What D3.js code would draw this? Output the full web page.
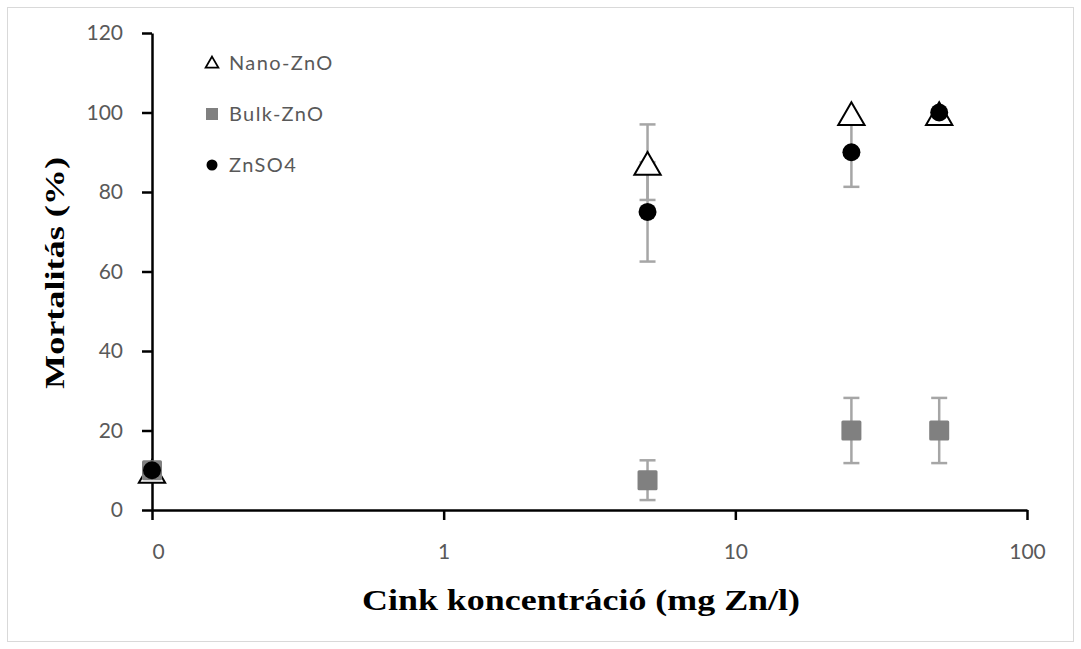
<!DOCTYPE html>
<html>
<head>
<meta charset="utf-8">
<style>
  body { margin: 0; background: #fff; }
  .tick-label { font-family: Lato, "Open Sans", sans-serif; font-size: 21px; fill: #595959; }
  .legend-label { font-family: Lato, "Open Sans", sans-serif; font-size: 20px; fill: #595959; letter-spacing: 1.4px; }
  .axis-title { font-family: "Liberation Serif", serif; font-weight: bold; fill: #000; }
</style>
</head>
<body>
<script src="https://cdn.jsdelivr.net/npm/d3@7"></script>
<script>
const width = 1081;
const height = 649;

// data (x = 0.1 stands for the "0" control on the log axis)
const concentrations = [0.1, 5, 25, 50];
const nanoZnO = [10, 87.5, 100, 100];
const nanoErr = [0, 9.5, 0, 0];
const bulkZnO = [10, 7.5, 20, 20];
const bulkErr = [0, 5, 8.2, 8.2];
const znSO4 = [10, 75, 90, 100];
const znErr = [0, 12.5, 8.7, 0];

const xTicks = [0.1, 1, 10, 100];
const xTickLabels = ["0", "1", "10", "100"];
const yTicks = [0, 20, 40, 60, 80, 100, 120];
const seriesNames = ["Nano-ZnO", "Bulk-ZnO", "ZnSO4"];

const margin = {top: 33, right: 54, bottom: 139, left: 152};

const svg = d3.select("body").append("svg")
  .attr("width", width)
  .attr("height", height);

svg.append("rect")
  .attr("x", 7.5).attr("y", 7.5)
  .attr("width", width - 15).attr("height", height - 15)
  .attr("fill", "#fff")
  .attr("stroke", "#d9d9d9");

const x = d3.scaleLog()
  .domain([0.1, 100])
  .range([margin.left, width - margin.right]);

const y = d3.scaleLinear()
  .domain([0, 120])
  .range([height - margin.bottom, margin.top]);

// axes
const yAxis = svg.append("g")
  .attr("transform", `translate(${margin.left},0)`)
  .call(d3.axisLeft(y).tickValues(yTicks).tickSize(10).tickSizeOuter(0).tickPadding(19));
yAxis.select(".domain").attr("stroke", "#000").attr("stroke-width", 2.5);
yAxis.selectAll(".tick line").attr("stroke", "#000").attr("stroke-width", 2.5);
yAxis.selectAll(".tick text").attr("class", "tick-label").attr("font-size", null).attr("font-family", null).attr("fill", null);

const xAxis = svg.append("g")
  .attr("transform", `translate(0,${height - margin.bottom})`)
  .call(d3.axisBottom(x).tickValues(xTicks).tickFormat((d, i) => xTickLabels[i]).tickSize(10).tickSizeOuter(0).tickPadding(24));
xAxis.select(".domain").attr("stroke", "#000").attr("stroke-width", 2.5);
xAxis.selectAll(".tick line").attr("stroke", "#000").attr("stroke-width", 2.5);
xAxis.selectAll(".tick text").attr("class", "tick-label").attr("font-size", null).attr("font-family", null).attr("fill", null)
  .attr("dx", (d, i) => i === 0 ? 6 : 0);

// axis titles
svg.append("text")
  .attr("class", "axis-title")
  .attr("font-size", 29)
  .attr("text-anchor", "middle")
  .attr("x", 581)
  .attr("y", 610)
  .attr("textLength", 438)
  .attr("lengthAdjust", "spacingAndGlyphs")
  .text("Cink koncentráció (mg Zn/l)");

svg.append("text")
  .attr("class", "axis-title")
  .attr("font-size", 28)
  .attr("text-anchor", "middle")
  .attr("transform", `translate(64,273) rotate(-90)`)
  .attr("textLength", 232)
  .attr("lengthAdjust", "spacingAndGlyphs")
  .text("Mortalitás (%)");

// error bars
const errSets = [
  {vals: nanoZnO, err: nanoErr},
  {vals: bulkZnO, err: bulkErr},
  {vals: znSO4, err: znErr}
];
const errG = svg.append("g").attr("stroke", "#a6a6a6").attr("stroke-width", 2.5);
errSets.forEach(s => {
  concentrations.forEach((c, i) => {
    if (!s.err[i]) return;
    const cx = x(c);
    const lo = y(s.vals[i] - s.err[i]);
    const hi = y(s.vals[i] + s.err[i]);
    errG.append("line").attr("x1", cx).attr("x2", cx).attr("y1", lo).attr("y2", hi);
    errG.append("line").attr("x1", cx - 8).attr("x2", cx + 8).attr("y1", lo).attr("y2", lo);
    errG.append("line").attr("x1", cx - 8).attr("x2", cx + 8).attr("y1", hi).attr("y2", hi);
  });
});

const triangle = d3.symbol().type(d3.symbolTriangle);

// markers: Nano-ZnO
svg.append("g").selectAll("path")
  .data(concentrations.map((c, i) => [c, nanoZnO[i]]))
  .join("path")
  .attr("transform", d => `translate(${x(d[0])},${y(d[1]) + 5})`)
  .attr("d", triangle.size(300))
  .attr("fill", "#fff")
  .attr("stroke", "#000")
  .attr("stroke-width", 2);

// Bulk-ZnO
svg.append("g").selectAll("rect")
  .data(concentrations.map((c, i) => [c, bulkZnO[i]]))
  .join("rect")
  .attr("x", d => x(d[0]) - 10)
  .attr("y", d => y(d[1]) - 10)
  .attr("width", 20).attr("height", 20)
  .attr("rx", 1.5)
  .attr("fill", "#808080");

// ZnSO4
svg.append("g").selectAll("circle")
  .data(concentrations.map((c, i) => [c, znSO4[i]]))
  .join("circle")
  .attr("cx", d => x(d[0]))
  .attr("cy", d => y(d[1]))
  .attr("r", 9)
  .attr("fill", "#000");

// legend
const legend = svg.append("g").attr("transform", "translate(212,63)");
seriesNames.forEach((name, i) => {
  const g = legend.append("g").attr("transform", `translate(0,${i * 51})`);
  if (i === 0) {
    g.append("path").attr("d", d3.symbol().type(d3.symbolTriangle).size(70)())
      .attr("transform", "translate(0,1)")
      .attr("fill", "#fff").attr("stroke", "#000").attr("stroke-width", 1.8);
  } else if (i === 1) {
    g.append("rect").attr("x", -6).attr("y", -6).attr("width", 12).attr("height", 12).attr("fill", "#808080");
  } else {
    g.append("circle").attr("r", 5.5).attr("fill", "#000");
  }
  g.append("text")
    .attr("class", "legend-label")
    .attr("x", 17)
    .attr("dy", "0.35em")
    .text(name);
});
</script>
</body>
</html>
